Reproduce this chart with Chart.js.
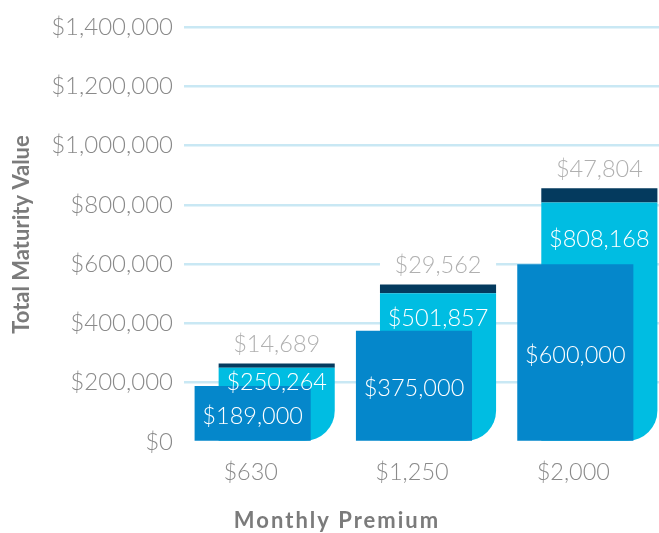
<!DOCTYPE html>
<html>
<head>
<meta charset="utf-8">
<script src="https://cdn.jsdelivr.net/npm/chart.js@4.4.1/dist/chart.umd.min.js"></script>
<style>
  html, body { margin: 0; padding: 0; background: #ffffff; }
  #wrap { width: 659px; height: 533px; position: relative; }
</style>
</head>
<body>
<div id="wrap"><canvas id="c" width="659" height="533"></canvas></div>
<script>
// ---- data ----
const categories = ['$630', '$1,250', '$2,000'];
const premiumsPaid = [189000, 375000, 600000];        // front bars
const guaranteedValues = [250264, 501857, 808168];    // back bars
const additionalValues = [14689, 29562, 47804];       // caps on back bars
const yTickValues = [0, 200000, 400000, 600000, 800000, 1000000, 1200000, 1400000];
const xAxisTitle = 'Monthly Premium';
const yAxisTitle = 'Total Maturity Value';

// ---- styles ----
const COL_FRONT = '#0587cb';
const COL_BACK = '#00bde2';
const COL_CAP = '#043a5e';
const COL_GRID = '#c9e8f4';
const COL_TICK = '#8a8a8a';
const COL_CAPLABEL = '#b0b0b0';
const COL_TITLE = '#7b7b7b';
const LABEL_FONT = '300 23.5px Lato, "Open Sans", sans-serif';

const fmt = v => '$' + v.toLocaleString('en-US');

// extend the category scale a little past the right edge (last bar is cut by the frame)
const extendPlugin = {
  id: 'extendX',
  afterLayout(chart) {
    const x = chart.scales.x;
    const extra = 9;
    x.right += extra;
    x.width += extra;
    x.configure();
    chart.chartArea.right += extra;
    chart.chartArea.width += extra;
  }
};

const labelPlugin = {
  id: 'valueLabels',
  afterDatasetsDraw(chart) {
    const ctx = chart.ctx;
    const mFront = chart.getDatasetMeta(0);
    const mBack = chart.getDatasetMeta(1);
    const mCap = chart.getDatasetMeta(2);
    ctx.save();
    ctx.font = LABEL_FONT;
    ctx.textAlign = 'center';
    ctx.textBaseline = 'middle';
    categories.forEach((c, i) => {
      const f = mFront.data[i], b = mBack.data[i], k = mCap.data[i];
      const capY = k.y - 19;
      ctx.fillStyle = '#ffffff';
      ctx.fillRect(b.x - b.width / 2, capY - 13, b.width, 26);
      ctx.fillStyle = COL_CAPLABEL;
      ctx.fillText(fmt(additionalValues[i]), b.x, capY);
      ctx.fillStyle = '#ffffff';
      ctx.fillText(fmt(guaranteedValues[i]), b.x, (b.y + f.y) / 2 + 6);
      ctx.fillText(fmt(premiumsPaid[i]), f.x, (f.y + f.base) / 2 + 3);
    });
    // x axis title, centred on the page as in the original
    ctx.font = 'bold 22px Lato, "Open Sans", sans-serif';
    ctx.fillStyle = COL_TITLE;
    try { ctx.letterSpacing = '2px'; } catch (e) {}
    ctx.fillText(xAxisTitle, 337, 521);
    ctx.restore();
  }
};

const BP = 4.83, CP = 0.298;

new Chart(document.getElementById('c'), {
  type: 'bar',
  data: {
    labels: categories,
    datasets: [
      {
        label: 'Premiums paid',
        data: premiumsPaid,
        backgroundColor: COL_FRONT,
        stack: 'front',
        barPercentage: BP,
        categoryPercentage: CP
      },
      {
        label: 'Guaranteed value',
        data: guaranteedValues,
        backgroundColor: COL_BACK,
        stack: 'back',
        borderSkipped: false,
        borderRadius: { topLeft: 0, topRight: 0, bottomLeft: 0, bottomRight: 30 },
        barPercentage: BP,
        categoryPercentage: CP
      },
      {
        label: 'Additional value',
        data: additionalValues,
        backgroundColor: COL_CAP,
        stack: 'back',
        barPercentage: BP,
        categoryPercentage: CP
      }
    ]
  },
  options: {
    responsive: false,
    animation: false,
    events: [],
    layout: { padding: { top: 27, right: 0, bottom: 0, left: 0 } },
    plugins: { legend: { display: false }, tooltip: { enabled: false } },
    scales: {
      x: {
        grid: { display: false },
        border: { display: false },
        ticks: {
          color: COL_TICK,
          font: { family: 'Lato', weight: '300', size: 23.5 },
          padding: 8,
          labelOffset: -14
        },
        title: { display: false, text: xAxisTitle },
        afterFit(scale) { scale.height = 91; }
      },
      y: {
        stacked: true,
        min: 0,
        max: 1400000,
        afterBuildTicks(scale) { scale.ticks = yTickValues.map(v => ({ value: v })); },
        grid: {
          drawTicks: false,
          lineWidth: 2.5,
          color: ctx => (ctx.tick && ctx.tick.value === 0) ? 'rgba(0,0,0,0)' : COL_GRID
        },
        border: { display: false },
        ticks: {
          color: COL_TICK,
          font: { family: 'Lato', weight: '300', size: 24 },
          padding: 11,
          callback: v => fmt(v)
        },
        title: {
          display: true,
          text: yAxisTitle,
          color: COL_TITLE,
          font: { family: 'Lato', weight: 'bold', size: 22, lineHeight: 1 },
          padding: { top: 11, bottom: 0 }
        },
        afterFit(scale) { scale.width = 184; }
      }
    }
  },
  plugins: [extendPlugin, labelPlugin]
});
</script>
</body>
</html>
